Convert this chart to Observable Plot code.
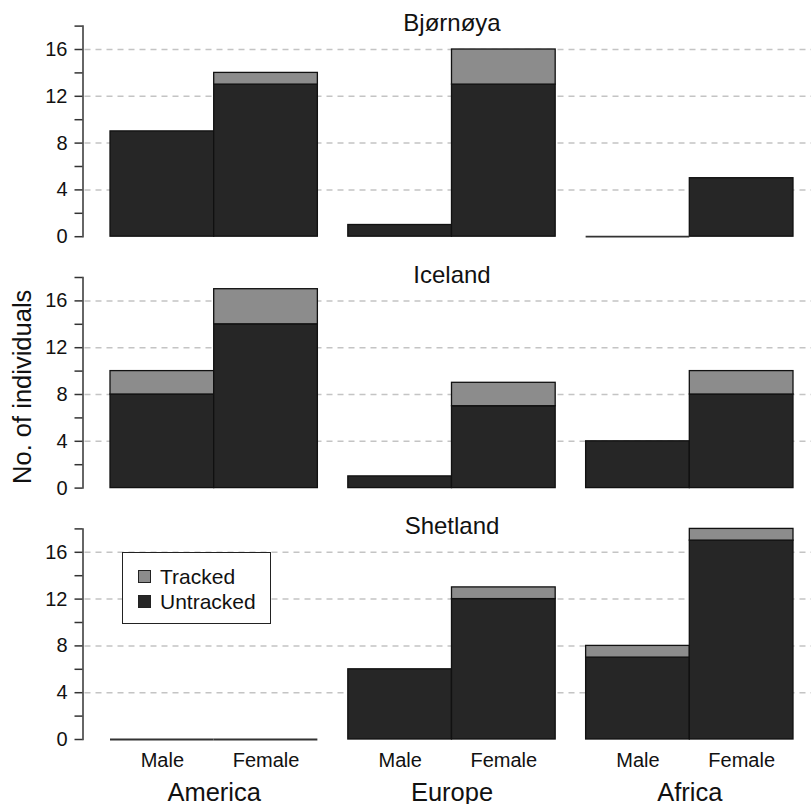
<!DOCTYPE html>
<html>
<head>
<meta charset="utf-8">
<script src="https://cdn.jsdelivr.net/npm/d3@7"></script>
<script src="https://cdn.jsdelivr.net/npm/@observablehq/plot@0.6"></script>
<style>
  body { margin: 0; background: #fff; font-family: "Liberation Sans", Arial, sans-serif; }
  #wrap { position: relative; width: 811px; height: 804px; }
  #legend { position: absolute; left: 122px; top: 552px; width: 149px; height: 72px; box-sizing: border-box;
            border: 1.5px solid #222; background: #fff; padding: 11px 0 0 15px; }
  .item { display: flex; align-items: center; height: 25px; font-size: 21px; color: #111; }
  .sw { width: 13px; height: 13px; border: 1px solid #222; margin-right: 9px; box-sizing: border-box; }
</style>
</head>
<body>
<div id="wrap"></div>
<script>
const sites = ["Bjørnøya", "Iceland", "Shetland"];
const regions = ["America", "Europe", "Africa"];
const sexes = ["Male", "Female"];
const statuses = ["Untracked", "Tracked"];
const statusColors = ["#262626", "#8c8c8c"];
const legendOrder = ["Tracked", "Untracked"];

// counts ordered: America Male, America Female, Europe Male, Europe Female, Africa Male, Africa Female
const untrackedBjornoya = [9, 13, 1, 13, 0, 5];
const trackedBjornoya   = [0, 1, 0, 3, 0, 0];
const untrackedIceland  = [8, 14, 1, 7, 4, 8];
const trackedIceland    = [2, 3, 0, 2, 0, 2];
const untrackedShetland = [0, 0, 6, 12, 7, 17];
const trackedShetland   = [0, 0, 0, 1, 1, 1];

const yTickLabels = [0, 4, 8, 12, 16];
const yMinorTicks = [0, 2, 4, 6, 8, 10, 12, 14, 16, 18];
const gridValues = [4, 8, 12, 16];
const yLabel = "No. of individuals";

const untrackedBySite = [untrackedBjornoya, untrackedIceland, untrackedShetland];
const trackedBySite = [trackedBjornoya, trackedIceland, trackedShetland];

const rows = [];
const totals = [];
sites.forEach((site, si) => {
  regions.forEach((region, ri) => {
    sexes.forEach((sex, xi) => {
      const k = ri * 2 + xi;
      const u = untrackedBySite[si][k], t = trackedBySite[si][k];
      rows.push({site, region, sex, status: "Untracked", count: u});
      rows.push({site, region, sex, status: "Tracked", count: t});
      totals.push({site, region, sex, total: u + t});
    });
  });
});
const zeroRows = totals.filter(d => d.total === 0);

const font = '"Liberation Sans", Arial, sans-serif';
const axisShift = -27.5;

const chart = Plot.plot({
  width: 811,
  height: 804,
  marginLeft: 110,
  marginRight: 18,
  marginTop: 25.6,
  marginBottom: 65,
  fx: {domain: regions, paddingInner: 0.128, paddingOuter: 0, round: false},
  fy: {domain: sites, paddingInner: 0.1623, paddingOuter: 0, round: false, axis: null},
  x: {domain: sexes, padding: 0, round: false},
  y: {domain: [0, 18]},
  color: {domain: statuses, range: statusColors},
  style: {fontFamily: font, fontSize: "20px", background: "white", color: "#111", overflow: "visible"},
  marks: [
    Plot.ruleY(gridValues, {stroke: "#c4c4c4", strokeWidth: 1.5, strokeDasharray: "6,5",
      insetLeft: axisShift + 2, insetRight: -494, facetAnchor: "left"}),
    Plot.barY(rows, {fx: "region", fy: "site", x: "sex", y: "count", fill: "status",
      stroke: "#111", strokeWidth: 1.3}),
    Plot.tickY(zeroRows, {fx: "region", fy: "site", x: "sex", y: "total", stroke: "#333", strokeWidth: 1.8}),
    Plot.frame({anchor: "left", stroke: "#333", strokeWidth: 1.5, insetLeft: axisShift, facetAnchor: "left"}),
    Plot.axisY(yMinorTicks, {tickSize: 8, tickFormat: () => "", stroke: "#333", strokeWidth: 1.5,
      dx: axisShift, label: null}),
    Plot.axisY(yTickLabels, {tickSize: 0, tickPadding: 15.5, dx: axisShift, fontSize: 20,
      fill: "#111", label: null}),
    Plot.axisX({anchor: "bottom", tickSize: 0, tickPadding: 13.5, fontSize: 20, fill: "#111", label: null}),
    Plot.axisFx({anchor: "bottom", tickSize: 0, tickPadding: 43, fontSize: 25.5, fill: "#111", label: null}),
    Plot.text(sites, {fx: () => regions[1], fy: d => d, text: d => d, frameAnchor: "top",
      lineAnchor: "bottom", dy: 5, fontSize: 24, fill: "#111"}),
    Plot.text([yLabel], {fx: () => regions[0], fy: () => sites[1], text: d => d, frameAnchor: "left",
      rotate: -90, textAnchor: "middle", lineAnchor: "middle", dx: -88, dy: 4, fontSize: 25.5, fill: "#111"})
  ]
});

const wrap = document.getElementById("wrap");
wrap.appendChild(chart);

const legend = document.createElement("div");
legend.id = "legend";
legendOrder.forEach(name => {
  const item = document.createElement("div");
  item.className = "item";
  const sw = document.createElement("span");
  sw.className = "sw";
  sw.style.background = statusColors[statuses.indexOf(name)];
  const label = document.createElement("span");
  label.textContent = name;
  item.appendChild(sw);
  item.appendChild(label);
  legend.appendChild(item);
});
wrap.appendChild(legend);
</script>
</body>
</html>
